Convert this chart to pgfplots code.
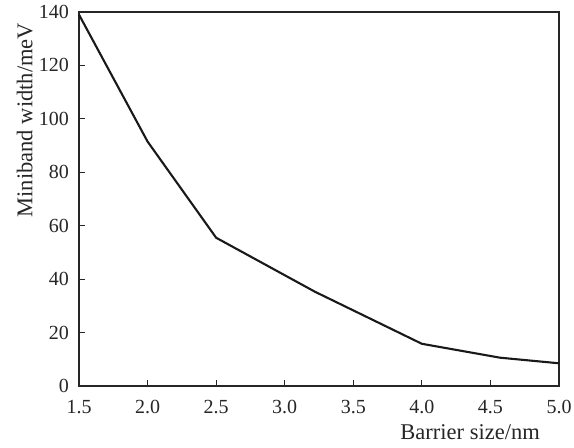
\documentclass[border=0pt]{standalone}
\usepackage{fontspec}
\setmainfont{Liberation Serif}
\usepackage{pgfplots}
\pgfplotsset{compat=1.18}
\begin{document}
\begin{tikzpicture}
\begin{axis}[
  name=ax,
  scale only axis,
  width=480pt, height=374pt,
  xmin=1.5, xmax=5.0, ymin=0, ymax=140,
  xtick={1.5,2.0,...,5.0},
  ytick={0,20,...,140},
  xticklabel style={/pgf/number format/fixed,/pgf/number format/fixed zerofill,/pgf/number format/precision=1, anchor=north, inner sep=0pt, yshift=-14pt},
  yticklabel style={anchor=east, inner sep=0pt, xshift=-10pt},
  /pgf/number format/assume math mode=true,
  tick align=inside,
  xtick pos=bottom, ytick pos=left,
  major tick length=6pt,
  axis line style={line width=1.1pt, black!85},
  tick style={line width=1.1pt, black!85},
  every tick label/.append style={font=\fontsize{20}{24}\selectfont, text=black!85},
  xlabel={Barrier size/nm},
  ylabel={Miniband width/meV},
  xlabel style={at={(axis description cs:1,0)}, anchor=base east, xshift=-19pt, yshift=-53pt, inner sep=0pt, font=\fontsize{22.5}{26}\selectfont, text=black!85},
  ylabel style={at={(axis description cs:0,0.711)}, anchor=south, yshift=46pt, inner sep=0pt, font=\fontsize{22.5}{26}\selectfont, text=black!85},
  clip=false,
]
\addplot[line width=2.1pt, black!90] coordinates {
  (1.5,139) (2.0,91.5) (2.5,55.5) (3.22,35.3) (4.0,15.8) (4.57,10.6) (5.0,8.5)
};
\end{axis}
\path (ax.south west) ++(-79pt,-61pt) rectangle ++(1pt,1pt);
\path (ax.north east) ++(15pt,12pt) rectangle ++(-1pt,-1pt);
\end{tikzpicture}
\end{document}
